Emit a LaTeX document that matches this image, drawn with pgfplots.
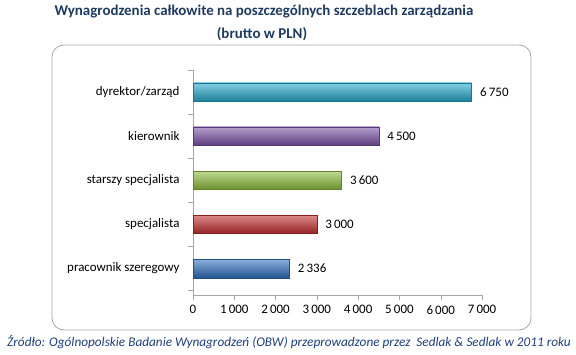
\documentclass[border=0pt]{standalone}
\usepackage{pgfplots}
\pgfplotsset{compat=1.18}
\usepackage{fontspec}
\setmainfont{Carlito}
\definecolor{titleblue}{HTML}{1F3A5F}
\definecolor{srcblue}{HTML}{1F3F7A}
\definecolor{cDyr}{HTML}{22A9CC}
\definecolor{cKier}{HTML}{7A51A6}
\definecolor{cStar}{HTML}{8DBD3A}
\definecolor{cSpec}{HTML}{C42A2C}
\definecolor{cPrac}{HTML}{2F6FC1}
\begin{document}
\begin{tikzpicture}
\path (0bp,0bp) rectangle (576bp,355bp);
\node[font=\fontsize{15}{17}\selectfont\bfseries, text=titleblue] at (264bp,343bp) {Wynagrodzenia całkowite na poszczególnych szczeblach zarządzania};
\node[font=\fontsize{15}{17}\selectfont\bfseries, text=titleblue] at (262bp,321bp) {(brutto w PLN)};
\draw[gray!70, line width=0.8pt, rounded corners=12bp] (52bp,25bp) rectangle (531bp,310bp);
\node[font=\fontsize{13.3}{15}\selectfont\itshape, text=srcblue] at (289bp,13bp) {Źródło: Ogólnopolskie Badanie Wynagrodzeń (OBW) przeprowadzone przez~ Sedlak \& Sedlak w 2011 roku};
\begin{axis}[
  at={(193bp,60bp)}, anchor=south west,
  scale only axis, width=289bp, height=225bp,
  xmin=0, xmax=7000, ymin=-0.6, ymax=4.5,
  xbar, bar width=0.42, bar shift=0pt,
  axis x line*=bottom, axis y line*=left,
  axis line style={gray!70},
  x axis line style={-}, y axis line style={-},
  xtick={0,1000,...,7000},
  major tick length=5bp, minor tick length=5bp,
  xtick style={gray!70},
  xtick align=outside,
  ytick={0,1,2,3,4},
  yticklabels={pracownik szeregowy,specjalista,starszy specjalista,kierownik,dyrektor/zarząd},
  major y tick style={draw=none},
  minor ytick={-0.5,0.5,1.5,2.5,3.5,4.5},
  minor y tick style={gray!70},
  ytick align=outside,
  tick label style={font=\fontsize{13}{15}\selectfont},
  xticklabel style={yshift=-2bp},
  yticklabel style={xshift=-5bp},
  /pgf/number format/assume math mode=true,
  /pgf/number format/1000 sep={\,},
  nodes near coords,
  nodes near coords style={font=\fontsize{13}{15}\selectfont, xshift=5bp,
    /pgf/number format/assume math mode=true, /pgf/number format/1000 sep={\,}},
  clip=false,
]
\addplot[top color=cPrac!55!white, middle color=cPrac, bottom color=cPrac!75!black, draw=cPrac!70!black] coordinates {(2336,0)};
\addplot[top color=cSpec!55!white, middle color=cSpec, bottom color=cSpec!75!black, draw=cSpec!70!black] coordinates {(3000,1)};
\addplot[top color=cStar!55!white, middle color=cStar, bottom color=cStar!75!black, draw=cStar!70!black] coordinates {(3600,2)};
\addplot[top color=cKier!55!white, middle color=cKier, bottom color=cKier!75!black, draw=cKier!70!black] coordinates {(4500,3)};
\addplot[top color=cDyr!55!white, middle color=cDyr, bottom color=cDyr!75!black, draw=cDyr!70!black] coordinates {(6750,4)};
\end{axis}
\end{tikzpicture}
\end{document}
